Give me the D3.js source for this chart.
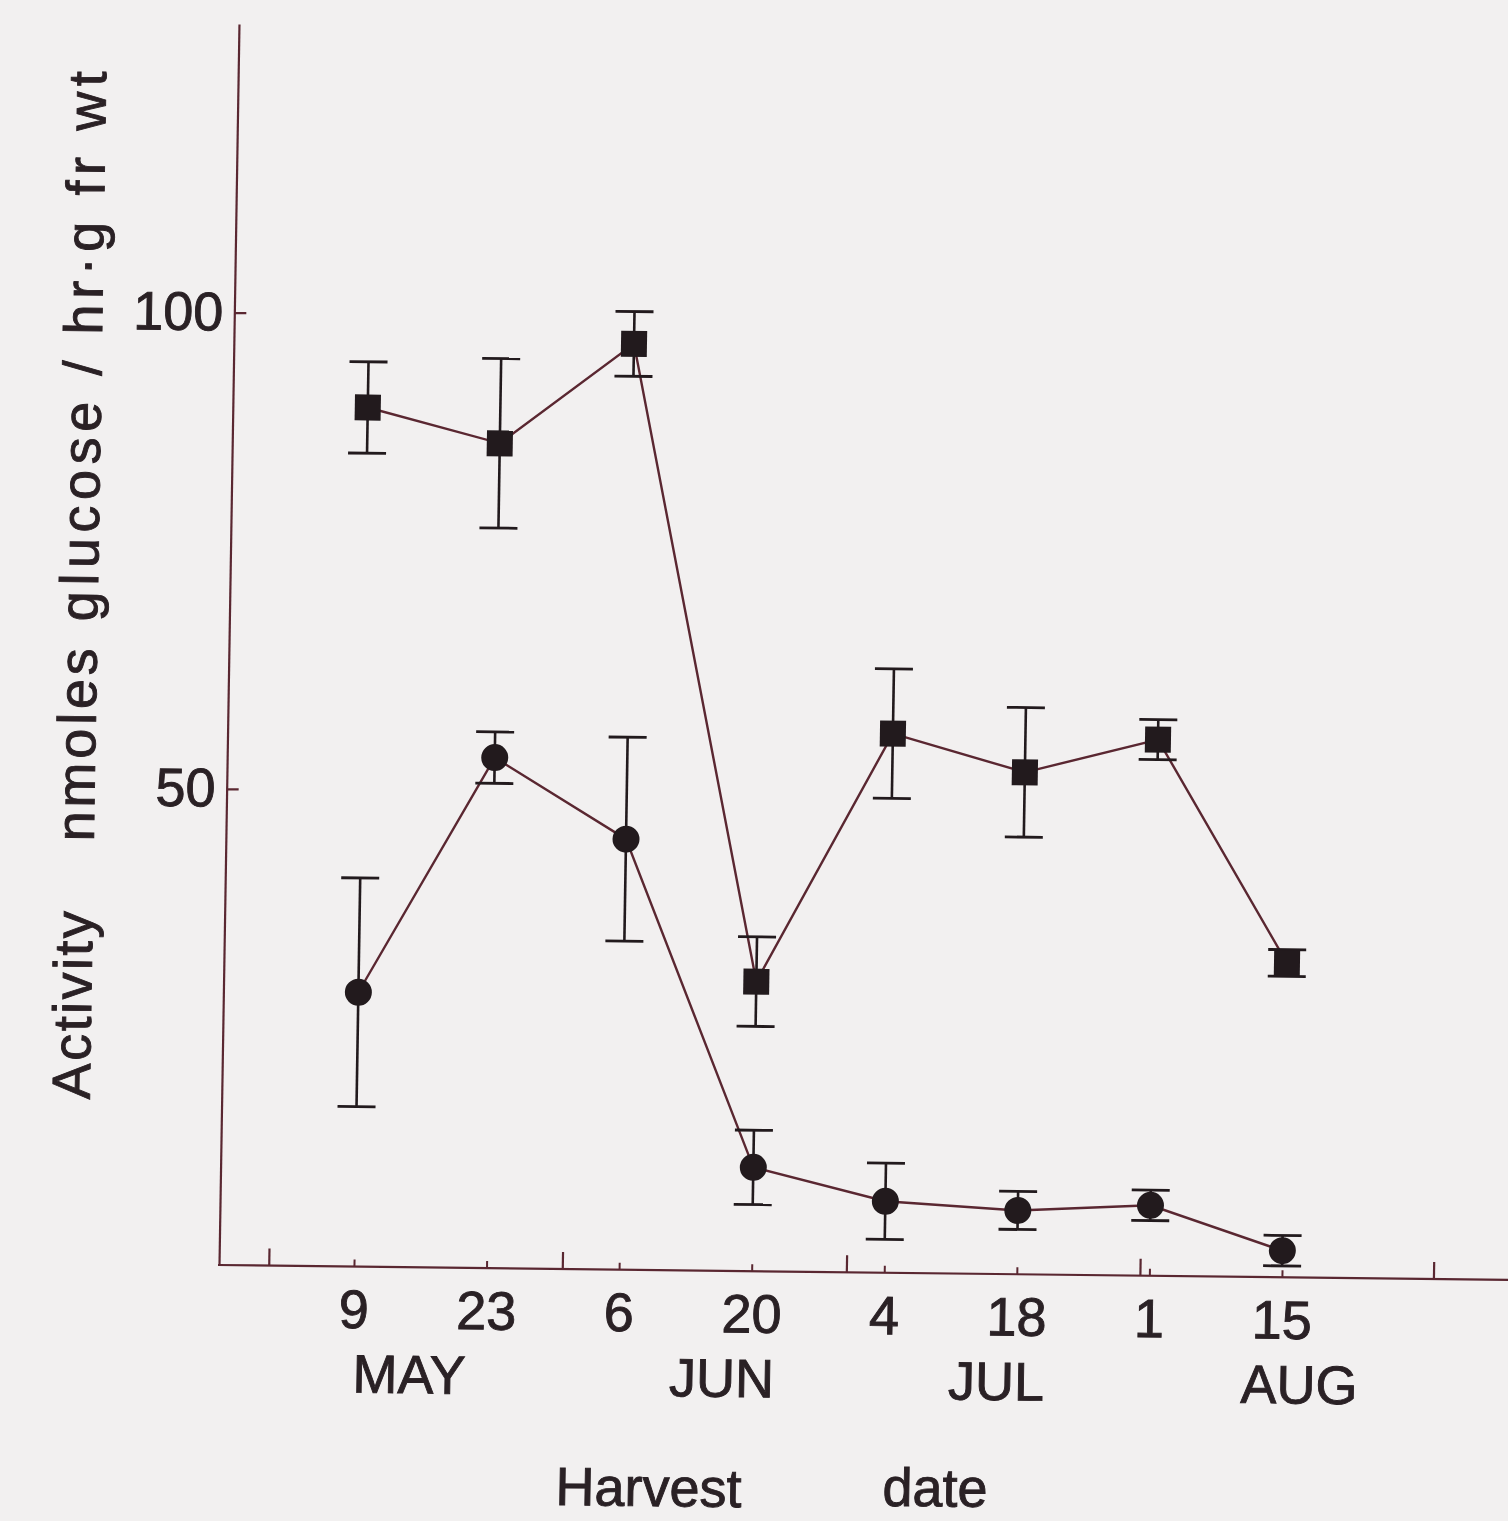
<!DOCTYPE html>
<html>
<head>
<meta charset="utf-8">
<script src="https://cdn.jsdelivr.net/npm/d3@7/dist/d3.min.js"></script>
<style>
  html, body { margin: 0; padding: 0; background: #f2f0f0; }
  svg { display: block; }
  text { font-family: "Liberation Sans", Arial, Helvetica, sans-serif; fill: #2a2125; stroke: #2a2125; stroke-width: 0.9px; }
</style>
</head>
<body>
<svg id="chart" width="1508" height="1521"></svg>
<script>
// Harvest dates, counted in days after 1 May
const harvestDays = [8, 22, 36, 50, 64, 78, 92, 106];
const dayLabels = ["9", "23", "6", "20", "4", "18", "1", "15"];
const monthLabels = ["MAY", "JUN", "JUL", "AUG"];
const monthLabelDays = [14, 47, 76, 108];
// last day of each month (30 Apr ... 31 Aug)
const monthEndDays = [-1, 30, 60, 91, 122];

// Enzyme activity, nmoles glucose / hr·g fr wt (mean ± error)
const squareMean = [90.2, 86.6, 97.2, 30.4, 56.6, 52.7, 56.3, 33.0];
const squareErr  = [4.8, 8.9, 3.4, 4.7, 6.8, 6.8, 2.1, 1.4];
const circleMean = [28.8, 53.6, 45.2, 10.9, 7.5, 6.7, 7.4, 2.8];
const circleErr  = [12.0, 2.7, 10.7, 3.9, 4.0, 2.0, 1.6, 1.6];

const yTicks = [50, 100];

const svg = d3.select("#chart");
svg.append("rect").attr("width", 1508).attr("height", 1521).attr("fill", "#f2f0f0");

const ink = "#221a1d";
const lineCol = "#5a2731";
const FS = 54;

// plot frame: origin at the axis corner, slightly skewed like the printed page
const g = svg.append("g")
  .attr("transform", "translate(219,1265) matrix(1,0.0116,-0.0161,1,0,0)");

const x = d3.scaleLinear().domain([0, 100]).range([59.2, 1006.1]);
const y = d3.scaleLinear().domain([0, 130.3]).range([0, -1241]);

// y axis
const yAxis = d3.axisLeft(y).tickValues(yTicks).tickSizeInner(-12).tickSizeOuter(0).tickPadding(11);
const gy = g.append("g").call(yAxis);
gy.select(".domain").attr("stroke", lineCol).attr("stroke-width", 2.2);
gy.selectAll(".tick line").attr("stroke", lineCol).attr("stroke-width", 2.2);
gy.selectAll(".tick text").attr("font-size", FS).attr("fill", "#2a2125")
  .style("font-family", "'Liberation Sans', Arial, sans-serif");

// x axis line
g.append("line").attr("x1", -1).attr("x2", 1320).attr("y1", 0).attr("y2", 0)
  .attr("stroke", lineCol).attr("stroke-width", 2.2);

// month boundary ticks
const gm = g.append("g").call(d3.axisBottom(x).tickValues(monthEndDays).tickSize(-17).tickFormat(""));
gm.select(".domain").remove();
gm.selectAll(".tick line").attr("stroke", lineCol).attr("stroke-width", 2.2);

// harvest date ticks and day labels
const gx = g.append("g").call(
  d3.axisBottom(x).tickValues(harvestDays).tickSize(-7).tickPadding(23)
    .tickFormat((d, i) => dayLabels[i]));
gx.select(".domain").remove();
gx.selectAll(".tick line").attr("stroke", lineCol).attr("stroke-width", 2);
gx.selectAll(".tick text").attr("font-size", FS).attr("fill", "#2a2125")
  .style("font-family", "'Liberation Sans', Arial, sans-serif");

// month names
g.selectAll("text.month").data(monthLabels).join("text")
  .attr("class", "month")
  .attr("x", (d, i) => x(monthLabelDays[i]))
  .attr("y", 126)
  .attr("text-anchor", "middle")
  .attr("font-size", FS)
  .text(d => d);

// axis titles
g.append("text").attr("x", 340).attr("y", 236).attr("font-size", FS).text("Harvest");
g.append("text").attr("x", 667).attr("y", 233).attr("font-size", FS).text("date");

const yTitle = [
  { t: "Activity", start: -164, len: 188 },
  { t: "nmoles", start: -422, len: 193 },
  { t: "glucose / hr·g fr wt", start: -642, len: 550 }
];
g.selectAll("text.ytitle").data(yTitle).join("text")
  .attr("class", "ytitle")
  .attr("transform", d => `translate(-132,${d.start}) rotate(-90)`)
  .attr("font-size", FS)
  .attr("textLength", d => d.len)
  .attr("lengthAdjust", "spacing")
  .text(d => d.t);

// series
const series = [
  { mean: squareMean, err: squareErr, shape: "square" },
  { mean: circleMean, err: circleErr, shape: "circle" }
];

const line = d3.line().x(d => x(d.day)).y(d => y(d.v));

series.forEach(s => {
  const pts = harvestDays.map((day, i) => ({ day, v: s.mean[i], e: s.err[i] }));

  g.append("path").datum(pts)
    .attr("d", line)
    .attr("fill", "none")
    .attr("stroke", lineCol)
    .attr("stroke-width", 2.4);

  const eb = g.append("g");
  eb.selectAll("line.stem").data(pts).join("line")
    .attr("x1", d => x(d.day)).attr("x2", d => x(d.day))
    .attr("y1", d => y(d.v + d.e)).attr("y2", d => y(d.v - d.e))
    .attr("stroke", ink).attr("stroke-width", 2.6);
  eb.selectAll("line.capTop").data(pts).join("line")
    .attr("x1", d => x(d.day) - 19).attr("x2", d => x(d.day) + 19)
    .attr("y1", d => y(d.v + d.e)).attr("y2", d => y(d.v + d.e))
    .attr("stroke", ink).attr("stroke-width", 2.8);
  eb.selectAll("line.capBot").data(pts).join("line")
    .attr("x1", d => x(d.day) - 19).attr("x2", d => x(d.day) + 19)
    .attr("y1", d => y(d.v - d.e)).attr("y2", d => y(d.v - d.e))
    .attr("stroke", ink).attr("stroke-width", 2.8);

  if (s.shape === "square") {
    g.selectAll(null).data(pts).join("rect")
      .attr("x", d => x(d.day) - 13).attr("y", d => y(d.v) - 13)
      .attr("width", 26).attr("height", 26)
      .attr("fill", ink);
  } else {
    g.selectAll(null).data(pts).join("circle")
      .attr("cx", d => x(d.day)).attr("cy", d => y(d.v))
      .attr("r", 13.5)
      .attr("fill", ink);
  }
});
</script>
</body>
</html>
